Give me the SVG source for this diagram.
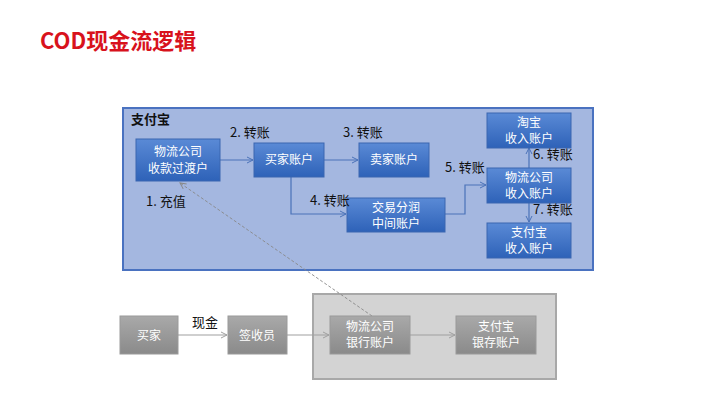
<svg xmlns="http://www.w3.org/2000/svg" width="720" height="405" viewBox="0 0 720 405">
<defs>
<linearGradient id="bg" x1="0" y1="0" x2="0" y2="1"><stop offset="0" stop-color="#5a8ad6"/><stop offset="1" stop-color="#2e62b8"/></linearGradient>
<linearGradient id="gg" x1="0" y1="0" x2="0" y2="1"><stop offset="0" stop-color="#a9a9a9"/><stop offset="1" stop-color="#8a8a8a"/></linearGradient>
<marker id="ab" markerWidth="8" markerHeight="8" refX="7" refY="4" orient="auto" markerUnits="userSpaceOnUse"><path d="M1,1 L7,4 L1,7" fill="none" stroke="#4a72b8" stroke-width="1"/></marker>
<marker id="ag" markerWidth="8" markerHeight="8" refX="7" refY="4" orient="auto" markerUnits="userSpaceOnUse"><path d="M1,1 L7,4 L1,7" fill="none" stroke="#a0a0a0" stroke-width="1"/></marker>
<marker id="ad" markerWidth="8" markerHeight="8" refX="7" refY="4" orient="auto" markerUnits="userSpaceOnUse"><path d="M1,1 L7,4 L1,7" fill="none" stroke="#888" stroke-width="1"/></marker>
</defs>
<style>
text{font-family:"Noto Sans CJK SC","Liberation Sans",sans-serif}
.bn rect{fill:url(#bg);stroke:#3a66b0;stroke-width:1}
.gn rect{fill:url(#gg);stroke:#9a9a9a;stroke-width:1}
.nt{fill:#fff;font-size:12px;text-anchor:middle}
.lb{fill:#111;font-size:13px}
.cb{fill:none;stroke:#4a72b8;stroke-width:1.2;marker-end:url(#ab)}
.cg{fill:none;stroke:#a0a0a0;stroke-width:1.2;marker-end:url(#ag)}
</style>
<rect width="720" height="405" fill="#fff"/>
<text x="40" y="49" font-size="22" font-weight="bold" fill="#d8121c">COD现金流逻辑</text>
<rect x="123" y="108" width="470" height="162" fill="#a4b7e0" stroke="#4a72c0" stroke-width="2"/>
<text x="131" y="124" font-size="13" font-weight="bold" fill="#111">支付宝</text>
<rect x="313" y="294" width="243" height="85" fill="#d3d3d3" stroke="#a8a8a8" stroke-width="2"/>
<g id="connectors">
<path class="cb" d="M220,160 H253"/>
<path class="cb" d="M324,160 H358"/>
<path class="cb" d="M291,177 V214 H346"/>
<path class="cb" d="M445,214 H465 V185 H486"/>
<path class="cb" d="M529,168 V148"/>
<path class="cb" d="M529,203 V222"/>
<path class="cg" d="M178,335 H227"/>
<path class="cg" d="M287,335 H329"/>
<path class="cg" d="M410,335 H455"/>
<path d="M372,316 L180,183" fill="none" stroke="#888" stroke-width="0.9" stroke-dasharray="3,2" marker-end="url(#ad)"/>
</g>
<g id="n1" class="bn"><rect x="136" y="139" width="84" height="42"/><text class="nt" x="178" y="156">物流公司</text><text class="nt" x="178" y="173">收款过渡户</text></g>
<g id="n2" class="bn"><rect x="254" y="143" width="70" height="34"/><text class="nt" x="289" y="164">买家账户</text></g>
<g id="n3" class="bn"><rect x="359" y="143" width="70" height="34"/><text class="nt" x="394" y="164">卖家账户</text></g>
<g id="n4" class="bn"><rect x="347" y="198" width="98" height="34"/><text class="nt" x="396" y="212">交易分润</text><text class="nt" x="396" y="228">中间账户</text></g>
<g id="n5" class="bn"><rect x="487" y="113" width="84" height="35"/><text class="nt" x="529" y="127">淘宝</text><text class="nt" x="529" y="143">收入账户</text></g>
<g id="n6" class="bn"><rect x="487" y="168" width="84" height="35"/><text class="nt" x="529" y="182">物流公司</text><text class="nt" x="529" y="198">收入账户</text></g>
<g id="n7" class="bn"><rect x="487" y="223" width="84" height="35"/><text class="nt" x="529" y="237">支付宝</text><text class="nt" x="529" y="253">收入账户</text></g>
<g id="g1" class="gn"><rect x="120" y="316" width="58" height="38"/><text class="nt" x="149" y="340">买家</text></g>
<g id="g2" class="gn"><rect x="228" y="316" width="59" height="38"/><text class="nt" x="257" y="340">签收员</text></g>
<g id="g3" class="gn"><rect x="330" y="316" width="80" height="38"/><text class="nt" x="370" y="331">物流公司</text><text class="nt" x="370" y="347">银行账户</text></g>
<g id="g4" class="gn"><rect x="456" y="316" width="80" height="38"/><text class="nt" x="496" y="331">支付宝</text><text class="nt" x="496" y="347">银存账户</text></g>
<g id="labels">
<text class="lb" x="230" y="137">2. 转账</text>
<text class="lb" x="343" y="137">3. 转账</text>
<text class="lb" x="310" y="205">4. 转账</text>
<text class="lb" x="445" y="172">5. 转账</text>
<text class="lb" x="533" y="159">6. 转账</text>
<text class="lb" x="533" y="214">7. 转账</text>
<text class="lb" x="146" y="206">1. 充值</text>
<text class="lb" x="192" y="327">现金</text>
</g>
</svg>
